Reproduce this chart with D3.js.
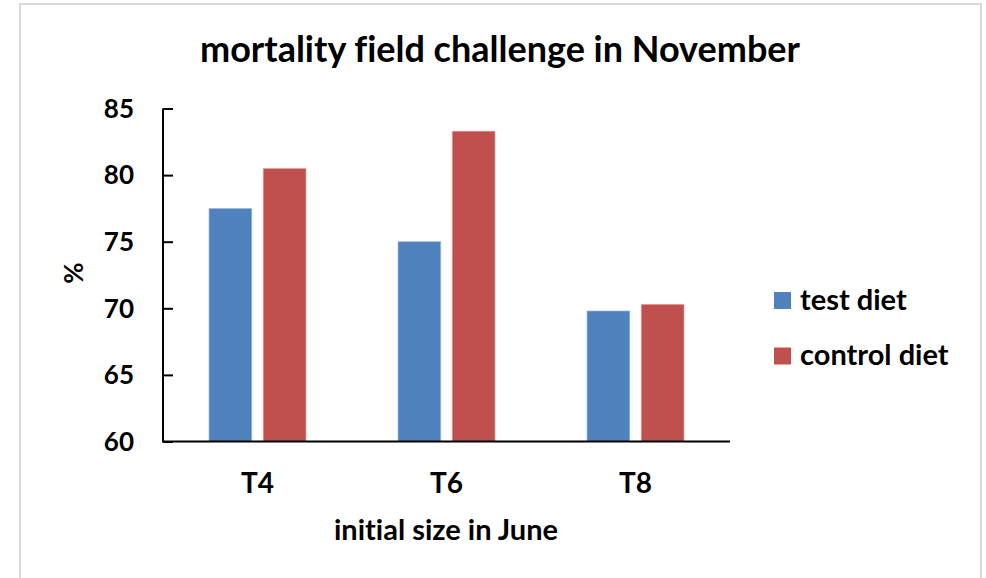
<!DOCTYPE html>
<html>
<head>
<meta charset="utf-8">
<style>
  body { margin: 0; background: #fff; }
  text { font-family: Lato, "Open Sans", sans-serif; font-weight: bold; fill: #000; font-variant-ligatures: none; }
</style>
</head>
<body>
<svg id="chart" width="986" height="578"></svg>
<script src="https://d3js.org/d3.v7.min.js"></script>
<script>

var categories = ['T4', 'T6', 'T8'];
var seriesNames = ['test diet', 'control diet'];
var testDiet = [77.5, 75.0, 69.8];
var controlDiet = [80.5, 83.3, 70.3];
var yTicks = [60, 65, 70, 75, 80, 85];
var colors = ['#4f81bd', '#c0504d'];

var svg = d3.select('#chart');

// outer frame
svg.append('rect')
    .attr('x', 20).attr('y', 4)
    .attr('width', 961).attr('height', 600)
    .attr('fill', 'none')
    .attr('stroke', '#d9d9d9')
    .attr('stroke-width', 2);

var plot = { left: 163, right: 730, top: 108.5, bottom: 441.5 };

var x = d3.scaleBand()
    .domain(categories)
    .range([plot.left, plot.right])
    .paddingInner(0)
    .paddingOuter(0);

var x1 = d3.scaleBand()
    .domain(seriesNames)
    .range([46, x.bandwidth() - 46])
    .paddingInner(0.21);

var y = d3.scaleLinear()
    .domain([60, 85])
    .range([plot.bottom, plot.top]);

var rows = categories.map(function(c, i) {
  return { cat: c, values: [testDiet[i], controlDiet[i]] };
});

var groups = svg.append('g').selectAll('g')
    .data(rows)
    .enter().append('g')
    .attr('transform', function(d) { return 'translate(' + x(d.cat) + ',0)'; });

groups.selectAll('rect')
    .data(function(d) { return d.values.map(function(v, j) { return { name: seriesNames[j], v: v, j: j }; }); })
    .enter().append('rect')
    .attr('x', function(d) { return x1(d.name); })
    .attr('width', x1.bandwidth())
    .attr('y', function(d) { return y(d.v); })
    .attr('height', function(d) { return y(60) - y(d.v); })
    .attr('fill', function(d) { return colors[d.j]; })
    .attr('stroke', function(d) { return d.j === 0 ? '#a7c0de' : '#e0a8a6'; })
    .attr('stroke-width', 0.7);

// y axis
var yAxis = svg.append('g')
    .attr('transform', 'translate(' + plot.left + ',0)')
    .call(d3.axisRight(y).tickValues(yTicks).tickSize(10).tickFormat(''));
yAxis.select('.domain').remove();
yAxis.selectAll('line').attr('stroke', '#000').attr('stroke-width', 2);
svg.append('line')
    .attr('x1', plot.left).attr('x2', plot.left)
    .attr('y1', plot.top).attr('y2', plot.bottom)
    .attr('stroke', '#000').attr('stroke-width', 2);

svg.append('g').selectAll('text')
    .data(yTicks)
    .enter().append('text')
    .attr('x', 134)
    .attr('y', function(d) { return y(d); })
    .attr('dy', '0.36em')
    .attr('text-anchor', 'end')
    .style('font-size', '26px')
    .text(function(d) { return d; });

// x axis
svg.append('line')
    .attr('x1', plot.left - 1).attr('x2', plot.right)
    .attr('y1', plot.bottom).attr('y2', plot.bottom)
    .attr('stroke', '#000').attr('stroke-width', 2);

svg.append('g').selectAll('text')
    .data(categories)
    .enter().append('text')
    .attr('x', function(d) { return x(d) + x.bandwidth() / 2; })
    .attr('y', 493)
    .attr('text-anchor', 'middle')
    .style('font-size', '28px')
    .text(function(d) { return d; });

// titles
svg.append('text')
    .attr('x', 500).attr('y', 62)
    .attr('text-anchor', 'middle')
    .style('font-size', '36px')
    .text('mortality field challenge in November');

svg.append('text')
    .attr('x', 446).attr('y', 540)
    .attr('text-anchor', 'middle')
    .style('font-size', '29px')
    .text('initial size in June');

svg.append('text')
    .attr('transform', 'translate(83,273) rotate(-90)')
    .attr('text-anchor', 'middle')
    .style('font-size', '26px')
    .text('%');

// legend
var legend = svg.append('g').selectAll('g')
    .data(seriesNames)
    .enter().append('g')
    .attr('transform', function(d, i) { return 'translate(774,' + (292 + i * 55.5) + ')'; });

legend.append('rect')
    .attr('width', 17).attr('height', 17)
    .attr('fill', function(d, i) { return colors[i]; });

legend.append('text')
    .attr('x', 26).attr('y', 17.5)
    .style('font-size', '29px')
    .text(function(d) { return d; });

</script>
</body>
</html>
